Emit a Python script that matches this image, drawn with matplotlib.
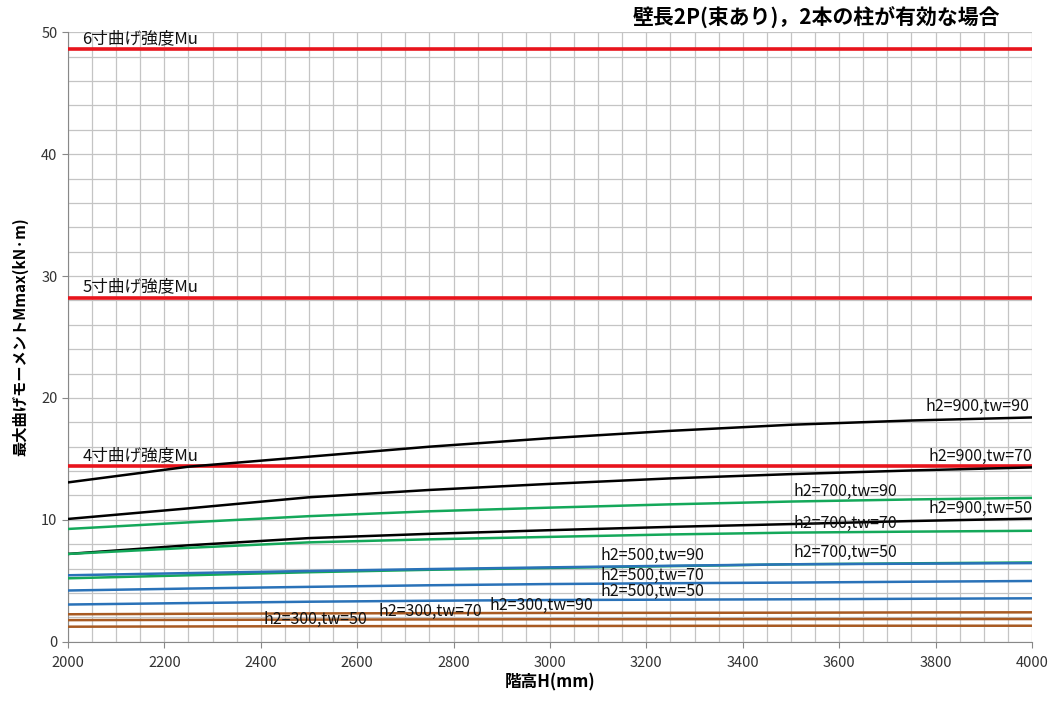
import matplotlib
matplotlib.use("Agg")
import matplotlib.pyplot as plt
from matplotlib.ticker import MultipleLocator

plt.rcParams['font.family'] = ['Noto Sans CJK JP', 'DejaVu Sans']

H = [2000, 2250, 2500, 2750, 3000, 3250, 3500, 3750, 4000]

m_900_90 = [13.07, 14.36, 15.18, 16.0, 16.7, 17.3, 17.8, 18.15, 18.4]
m_900_70 = [10.07, 10.94, 11.85, 12.45, 12.95, 13.4, 13.75, 14.05, 14.3]
m_900_50 = [7.2, 7.91, 8.5, 8.85, 9.15, 9.42, 9.65, 9.9, 10.1]
m_700_90 = [9.25, 9.79, 10.3, 10.7, 11.0, 11.27, 11.5, 11.67, 11.8]
m_700_70 = [7.2, 7.7, 8.15, 8.4, 8.6, 8.8, 8.95, 9.03, 9.1]
m_700_50 = [5.2, 5.45, 5.7, 5.9, 6.05, 6.2, 6.35, 6.43, 6.5]
m_500_90 = [5.45, 5.63, 5.8, 5.96, 6.1, 6.23, 6.35, 6.4, 6.45]
m_500_70 = [4.2, 4.36, 4.5, 4.63, 4.73, 4.8, 4.85, 4.92, 4.98]
m_500_50 = [3.05, 3.17, 3.28, 3.36, 3.42, 3.45, 3.48, 3.52, 3.56]
m_300_90 = [2.25, 2.29, 2.32, 2.34, 2.36, 2.37, 2.38, 2.40, 2.41]
m_300_70 = [1.77, 1.79, 1.81, 1.83, 1.84, 1.845, 1.85, 1.855, 1.86]
m_300_50 = [1.23, 1.25, 1.27, 1.28, 1.29, 1.30, 1.31, 1.31, 1.31]

mu_values = [48.6, 28.2, 14.4]
mu_labels = ['6寸曲げ強度Mu', '5寸曲げ強度Mu', '4寸曲げ強度Mu']

title = '壁長2P(束あり)，2本の柱が有効な場合'
xlabel = '階高H(mm)'
ylabel = '最大曲げモーメントMmax(kN·m)'

BLACK = '#000000'
GREEN = '#14a85a'
BLUE = '#2a72b8'
BROWN = '#a85a22'
RED = '#e8141c'

series = [
    (m_900_90, BLACK, 'h2=900,tw=90', 3995, 19.3, 'right'),
    (m_900_70, BLACK, 'h2=900,tw=70', 4000, 15.2, 'right'),
    (m_900_50, BLACK, 'h2=900,tw=50', 4000, 10.9, 'right'),
    (m_700_90, GREEN, 'h2=700,tw=90', 3505, 12.3, 'left'),
    (m_700_70, GREEN, 'h2=700,tw=70', 3505, 9.7, 'left'),
    (m_700_50, GREEN, 'h2=700,tw=50', 3505, 7.3, 'left'),
    (m_500_90, BLUE, 'h2=500,tw=90', 3105, 7.1, 'left'),
    (m_500_70, BLUE, 'h2=500,tw=70', 3105, 5.45, 'left'),
    (m_500_50, BLUE, 'h2=500,tw=50', 3105, 4.1, 'left'),
    (m_300_90, BROWN, 'h2=300,tw=90', 2875, 3.0, 'left'),
    (m_300_70, BROWN, 'h2=300,tw=70', 2645, 2.5, 'left'),
    (m_300_50, BROWN, 'h2=300,tw=50', 2405, 1.85, 'left'),
]

fig = plt.figure(figsize=(10.57, 7.01), dpi=100)
ax = fig.add_axes([0.0643, 0.0846, 0.912, 0.8693])

ax.set_xlim(2000, 4000)
ax.set_ylim(0, 50)
ax.xaxis.set_major_locator(MultipleLocator(200))
ax.xaxis.set_minor_locator(MultipleLocator(50))
ax.yaxis.set_major_locator(MultipleLocator(10))
ax.yaxis.set_minor_locator(MultipleLocator(2))
ax.grid(which='both', color='#c4c4c4', linewidth=0.9)
ax.set_axisbelow(True)
for s in ['top', 'right']:
    ax.spines[s].set_visible(False)
for s in ['left', 'bottom']:
    ax.spines[s].set_color('#888888')
ax.tick_params(which='major', length=4, color='#888888', labelsize=10.5, labelcolor='#333333')
ax.tick_params(which='minor', length=0)
ax.tick_params(axis='x', pad=6)

for val, lab in zip(mu_values, mu_labels):
    ax.axhline(val, color=RED, linewidth=2.6, zorder=3)
    ax.text(2030, val + 0.2, lab, fontsize=12, ha='left', va='bottom', color='#111111', zorder=4)

for ys, c, lab, tx, ty, ha in series:
    ax.plot(H, ys, color=c, linewidth=1.8, zorder=3)
    ax.text(tx, ty, lab, fontsize=11.5, ha=ha, va='center', color='#111111', zorder=4)

fig.text(0.772, 0.974, title, fontsize=15, fontweight='bold', ha='center', va='center')
ax.set_xlabel(xlabel, fontsize=12, fontweight='bold', labelpad=3)
ax.set_ylabel(ylabel, fontsize=11, fontweight='bold')
ax.yaxis.set_label_coords(-0.041, 0.5)

fig.savefig('out.png', dpi=100)
